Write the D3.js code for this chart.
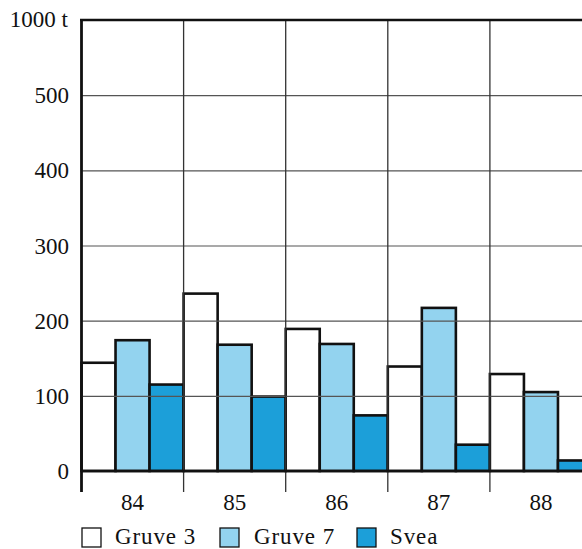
<!DOCTYPE html>
<html><head><meta charset="utf-8">
<script src="https://cdn.jsdelivr.net/npm/d3@7"></script>
<style>
html,body{margin:0;padding:0;background:#fff;}
svg{display:block;}
svg text{font-family:"Liberation Serif","DejaVu Serif","Times New Roman",Times,serif !important;font-size:23px;fill:#111;}
svg text.leg{letter-spacing:0.9px;}
</style>
</head><body>
<svg id="c" width="582" height="549"></svg>
<script>
const years = ["84","85","86","87","88"];
const series = ["Gruve 3","Gruve 7","Svea"];
const gruve3 = [144, 236, 189, 139, 129];
const gruve7 = [174, 168, 169, 217, 105];
const svea   = [115, 99, 74, 35, 14];
const yTicks = [0,100,200,300,400,500];
const unitLabel = "1000 t";
const colors = ["#ffffff", "#93d3ef", "#1c9fd9"];

const values = [gruve3, gruve7, svea];
const svg = d3.select("#c");

const x = d3.scaleBand().domain(years).range([81.5, 592]).padding(0);
const xs = d3.scaleBand().domain(series).range([0, x.bandwidth()]).padding(0);
const y = d3.scaleLinear().domain([0, 600]).range([471, 20]);

// bars
const g = svg.append("g");
years.forEach((yr, i) => {
  series.forEach((s, j) => {
    const v = values[j][i];
    g.append("rect")
      .attr("x", x(yr) + xs(s))
      .attr("y", y(v))
      .attr("width", xs.bandwidth())
      .attr("height", y(0) - y(v))
      .attr("fill", colors[j])
      .attr("stroke", "#111")
      .attr("stroke-width", 2.6);
  });
});

// horizontal gridlines (on top)
const gy = svg.append("g")
  .attr("transform", `translate(81.5,0)`)
  .call(d3.axisLeft(y).tickValues(yTicks.filter(t => t > 0)).tickSize(-520).tickFormat(""));
gy.select(".domain").remove();
gy.selectAll("line").attr("stroke", "#555").attr("stroke-width", 1.2);

// vertical gridlines at group boundaries
const bounds = years.map(d => x(d)).concat([x.range()[1]]);
svg.append("g").selectAll("line").data(bounds.slice(1)).join("line")
  .attr("x1", d => d).attr("x2", d => d)
  .attr("y1", y(600)).attr("y2", 492)
  .attr("stroke", "#333").attr("stroke-width", 1.3);

// baseline
svg.append("line").attr("x1", 81.5).attr("x2", 582).attr("y1", y(0)).attr("y2", y(0))
  .attr("stroke", "#111").attr("stroke-width", 2.6);
// top frame
svg.append("line").attr("x1", 80).attr("x2", 582).attr("y1", y(600)).attr("y2", y(600))
  .attr("stroke", "#111").attr("stroke-width", 2.6);
// y axis
svg.append("line").attr("x1", 81.5).attr("x2", 81.5).attr("y1", y(600) - 1).attr("y2", 492)
  .attr("stroke", "#111").attr("stroke-width", 2.8);

// y tick labels
const ya = svg.append("g").attr("transform", "translate(69,0)")
  .call(d3.axisLeft(y).tickValues(yTicks).tickSize(0).tickPadding(0));
ya.select(".domain").remove();
ya.selectAll("text").attr("dy", "0.33em");

svg.append("text").attr("x", 68).attr("y", 27).attr("text-anchor", "end").text(unitLabel);

// x labels
const xa = svg.append("g").attr("transform", `translate(0,${y(0)})`)
  .call(d3.axisBottom(x).tickSize(0).tickPadding(0));
xa.select(".domain").remove();
xa.selectAll("text").attr("dy", null).attr("y", 39);

// legend
const legBox = [82, 220, 357];
const legText = [115, 254, 390];
const lg = svg.append("g");
series.forEach((s, j) => {
  lg.append("rect").attr("x", legBox[j]).attr("y", 528).attr("width", 19).attr("height", 19)
    .attr("fill", colors[j]).attr("stroke", "#111").attr("stroke-width", 1.3);
  lg.append("text").attr("class", "leg").attr("x", legText[j]).attr("y", 544).text(s);
});
</script>
</body></html>
